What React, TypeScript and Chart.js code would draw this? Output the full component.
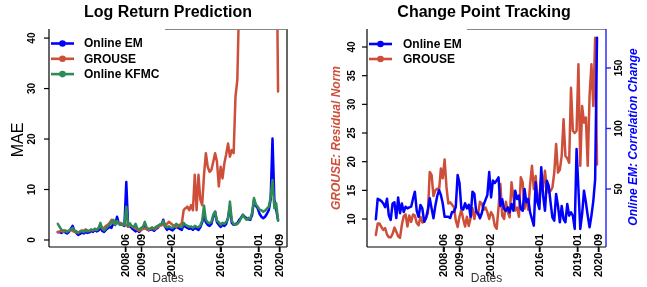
import { useEffect, useRef } from "react";
import { Chart, registerables } from "chart.js";
Chart.register(...registerables);

// ---- time grid (decimal years, one sample every ~1.77 months) ----
const N = 120;
const START = 2003.0;
const STEP = 0.14713;
const dates: number[] = Array.from({ length: N }, (_, i) => START + i * STEP);

// ---- x tick positions / labels ----
const xTickValues = [2008.417, 2009.667, 2012.083, 2016.0, 2019.0, 2020.667];
const xTickLabels = ["2008\u221206", "2009\u221209", "2012\u221202", "2016\u221201", "2019\u221201", "2020\u221209"];

// ---- left panel: Log Return Prediction (MAE) ----
const lrYTicks = [0, 10, 20, 30, 40];
const lrEM = [
  1.6, 1.5, 1.4, 1.7, 1.5, 1.3, 1.6, 2.2, 2.8, 1.8,
  1.4, 1.0, 1.2, 1.5, 1.3, 1.6, 1.4, 1.5, 1.8, 1.6,
  2.0, 1.7, 1.9, 2.4, 1.8, 1.6, 2.0, 2.3, 2.6, 2.4,
  3.3, 3.0, 4.6, 3.2, 3.0, 3.0, 2.8, 11.5, 2.6, 2.8,
  2.3, 2.0, 1.7, 1.9, 1.6, 2.0, 2.4, 3.0, 2.2, 1.9,
  2.0, 2.1, 1.8, 2.2, 2.4, 3.0, 3.0, 4.0, 2.6, 2.0,
  2.3, 2.1, 1.9, 2.3, 2.6, 2.4, 2.2, 2.0, 3.0, 2.6,
  2.4, 2.2, 2.3, 2.0, 2.4, 2.2, 2.0, 2.5, 3.5, 4.8,
  3.5, 3.0, 2.8, 3.2, 4.6, 5.6, 3.5, 3.0, 2.6, 3.0,
  2.8, 3.2, 4.5, 6.6, 3.4, 3.0, 3.2, 3.3, 4.0, 4.4,
  5.0, 4.6, 4.3, 4.1, 4.0, 5.0, 7.9, 6.8, 6.3, 5.2,
  4.6, 4.3, 4.6, 5.2, 5.9, 8.0, 20.1, 7.9, 6.0, 4.0,
];
const lrGROUSE = [
  1.5, 1.7, 1.8, 1.6, 1.9, 1.7, 1.8, 2.0, 1.8, 1.6,
  1.5, 1.4, 1.7, 1.9, 1.8, 2.1, 1.9, 1.8, 2.0, 1.9,
  2.2, 2.0, 2.4, 2.6, 2.5, 2.3, 2.8, 3.0, 3.4, 4.0,
  3.3, 3.6, 3.6, 3.2, 3.4, 3.0, 3.2, 3.0, 2.6, 2.9,
  2.8, 2.5, 2.3, 2.0, 1.8, 2.0, 2.2, 2.3, 2.1, 2.0,
  2.2, 2.4, 2.1, 2.3, 2.6, 2.8, 2.9, 3.0, 2.7, 3.2,
  3.6, 3.3, 3.0, 2.8, 2.6, 2.8, 3.0, 3.3, 5.9, 6.3,
  6.6, 5.9, 6.9, 5.9, 12.9, 5.9, 12.9, 8.0, 6.9, 12.9,
  17.2, 14.5, 13.5, 13.9, 15.5, 17.2, 15.5, 10.6, 14.5, 12.2,
  15.2, 17.0, 19.1, 16.5, 17.8, 17.2, 28.4, 31.7, 48, 55,
  60, 58, 65, 70, 62, 68, 75, 72, 80, 70,
  66, 74, 78, 85, 72, 80, 90, 76, 68, 29.4,
];
const lrKFMC = [
  3.2, 2.6, 2.0, 1.9, 1.8, 1.6, 1.9, 2.0, 2.4, 1.9,
  1.7, 1.5, 1.6, 1.8, 1.6, 1.9, 1.7, 1.8, 2.1, 1.9,
  2.2, 2.0, 2.3, 3.4, 2.2, 1.9, 2.3, 2.7, 3.0, 3.6,
  4.0, 3.0, 3.8, 3.2, 3.0, 3.2, 3.0, 6.6, 2.8, 3.3,
  2.7, 2.5, 3.2, 2.3, 2.0, 2.4, 2.6, 3.6, 2.5, 2.2,
  2.3, 2.5, 2.2, 2.6, 2.8, 3.0, 3.2, 3.8, 2.8, 2.5,
  2.7, 2.5, 2.4, 2.7, 3.2, 2.9, 2.6, 2.5, 3.4, 3.0,
  2.8, 2.6, 2.7, 2.4, 2.8, 2.6, 2.5, 2.9, 3.8, 6.8,
  4.0, 3.5, 3.3, 3.6, 5.0, 5.6, 3.8, 3.5, 3.0, 3.4,
  3.2, 3.6, 4.2, 7.6, 3.8, 3.2, 3.0, 3.2, 3.6, 4.3,
  5.0, 4.4, 4.0, 4.4, 4.2, 5.5, 8.3, 7.0, 6.6, 6.0,
  5.9, 5.6, 5.8, 6.2, 6.6, 8.5, 11.9, 6.3, 7.3, 3.8,
];

// ---- right panel: Change Point Tracking ----
const cpLeftTicks = [10, 15, 20, 25, 30, 35, 40];
const cpRightTicks = [50, 100, 150];
const cpGROUSE = [
  7.2, 9.2, 9.2, 8.6, 8.1, 8.4, 7.3, 6.8, 6.8, 7.4,
  8.5, 7.8, 7.0, 6.7, 9.0, 10.5, 10.8, 8.7, 10.6, 9.5,
  10.8, 10.6, 9.3, 8.9, 10.4, 9.4, 9.5, 10.2, 11.0, 18.2,
  17.7, 14.0, 15.0, 15.3, 15.0, 18.8, 17.1, 20.4, 15.6, 12.7,
  12.9, 12.5, 12.1, 9.8, 8.6, 10.4, 11.6, 10.0, 8.7, 10.4,
  8.8, 10.2, 11.9, 10.0, 11.6, 10.8, 13.0, 12.7, 11.6, 12.0,
  11.2, 10.0, 11.2, 10.6, 8.8, 8.3, 12.0, 16.1, 10.6, 10.0,
  13.0, 11.2, 10.3, 16.4, 13.9, 11.5, 12.0, 10.4, 17.3, 16.4,
  11.8, 13.6, 11.6, 16.0, 19.3, 15.2, 17.5, 12.9, 14.0, 17.3,
  15.5, 18.4, 15.2, 14.6, 14.9, 15.5, 18.1, 23.1, 18.1, 18.6,
  21.0, 27.4, 21.0, 20.6, 19.8, 32.9, 25.4, 25.0, 25.4, 37.0,
  19.3, 29.7, 26.8, 27.7, 19.3, 31.5, 37.0, 29.7, 41.6, 19.5,
];
const cpEM = [
  25, 42, 41, 40, 38, 35, 42, 28, 24.4, 38,
  39, 26, 43, 30, 38, 31, 35.4, 34, 34.8, 35.4,
  42, 47.8, 32, 27, 36.8, 34, 23, 26, 33, 42.3,
  34, 25.8, 36, 44, 49, 45, 38, 27, 27, 27,
  26, 31, 31, 35, 61.6, 55, 34, 33, 38.2, 34,
  37, 27, 47.8, 46, 31, 30, 25.8, 30, 37, 41,
  45, 64, 43, 57, 55, 57, 59.6, 36, 41.5, 33.5,
  32, 34.8, 30.7, 37.6, 32, 48.6, 41.7, 44.5, 33.5, 32,
  50, 39, 41.7, 30.7, 25.2, 19.7, 55.5, 39, 33.5, 67.9,
  44.5, 32, 56.9, 52.8, 39, 26.6, 23.8, 45.9, 36, 22.5,
  36, 25.2, 22.5, 37.6, 28, 30.7, 28, 17, 83, 50,
  17, 29.5, 48.6, 39, 28, 18.3, 28, 40, 58, 175,
];

const BLUE = "#0000FF";
const RED = "#CD4F39";
const GREEN = "#2E8B57";
const FONT = '"Liberation Sans", Arial, Helvetica, sans-serif';

const pts = (vals: number[]) => vals.map((v, i) => ({ x: dates[i], y: v }));

function seg(ctx: CanvasRenderingContext2D, x1: number, y1: number, x2: number, y2: number) {
  ctx.beginPath();
  ctx.moveTo(x1, y1);
  ctx.lineTo(x2, y2);
  ctx.stroke();
}

function vtext(ctx: CanvasRenderingContext2D, s: string, x: number, y: number, align: CanvasTextAlign, font: string, color: string) {
  ctx.save();
  ctx.translate(x, y);
  ctx.rotate(-Math.PI / 2);
  ctx.font = font;
  ctx.fillStyle = color;
  ctx.textAlign = align;
  ctx.textBaseline = "middle";
  ctx.fillText(s, 0, 0);
  ctx.restore();
}

function drawLegend(ctx: CanvasRenderingContext2D, items: { label: string; color: string }[], lineX1: number, lineX2: number, textX: number, y0: number, dy: number) {
  items.forEach((it, k) => {
    const y = y0 + k * dy;
    ctx.strokeStyle = it.color;
    ctx.lineWidth = 2.6;
    seg(ctx, lineX1, y, lineX2, y);
    ctx.fillStyle = it.color;
    ctx.beginPath();
    ctx.arc((lineX1 + lineX2) / 2, y, 3.3, 0, Math.PI * 2);
    ctx.fill();
    ctx.fillStyle = "#000";
    ctx.font = `bold 12px ${FONT}`;
    ctx.textAlign = "left";
    ctx.textBaseline = "middle";
    ctx.fillText(it.label, textX, y + 0.5);
  });
}

function drawXAxis(ctx: CanvasRenderingContext2D, chart: any) {
  const a = chart.chartArea;
  const xs = chart.scales.x;
  ctx.strokeStyle = "#000";
  ctx.lineWidth = 1.2;
  xTickValues.forEach((v, i) => {
    const px = xs.getPixelForValue(v);
    seg(ctx, px, a.bottom, px, a.bottom + 5);
    vtext(ctx, xTickLabels[i], px, 277, "left", `bold 11px ${FONT}`, "#000");
  });
  ctx.font = `12px ${FONT}`;
  ctx.fillStyle = "#333";
  ctx.textAlign = "center";
  ctx.textBaseline = "alphabetic";
  ctx.fillText("Dates", (a.left + a.right) / 2, 282);
}

const leftPlugin = {
  id: "leftDecor",
  afterDraw(chart: any) {
    const ctx: CanvasRenderingContext2D = chart.ctx;
    const a = chart.chartArea;
    const ys = chart.scales.y;
    ctx.save();
    // legend background
    ctx.fillStyle = "#fff";
    ctx.fillRect(a.left + 1, a.top - 1, 116, 54);
    // frame
    ctx.strokeStyle = "#000";
    ctx.lineWidth = 1.2;
    seg(ctx, a.left, a.top, a.left, a.bottom);
    seg(ctx, a.left, a.bottom, a.right, a.bottom);
    seg(ctx, a.right, a.top, a.right, a.bottom);
    ctx.strokeStyle = "#888";
    ctx.lineWidth = 1;
    seg(ctx, 165, a.top + 0.5, a.right, a.top + 0.5);
    // y ticks
    ctx.strokeStyle = "#000";
    ctx.lineWidth = 1.2;
    lrYTicks.forEach((v) => {
      const py = ys.getPixelForValue(v);
      seg(ctx, a.left - 5, py, a.left, py);
      vtext(ctx, String(v), a.left - 17, py, "center", `bold 10px ${FONT}`, "#000");
    });
    drawXAxis(ctx, chart);
    vtext(ctx, "MAE", 19, 140, "center", `16px ${FONT}`, "#000");
    // title
    ctx.font = `bold 16px ${FONT}`;
    ctx.fillStyle = "#000";
    ctx.textAlign = "center";
    ctx.textBaseline = "alphabetic";
    ctx.fillText("Log Return Prediction", 168, 17);
    drawLegend(ctx, [
      { label: "Online EM", color: BLUE },
      { label: "GROUSE", color: RED },
      { label: "Online KFMC", color: GREEN },
    ], 51, 74, 84, 43.5, 15.3);
    ctx.restore();
  },
};

const rightPlugin = {
  id: "rightDecor",
  afterDraw(chart: any) {
    const ctx: CanvasRenderingContext2D = chart.ctx;
    const a = chart.chartArea;
    const yl = chart.scales.yL;
    const yr = chart.scales.yR;
    ctx.save();
    ctx.fillStyle = "#fff";
    ctx.fillRect(a.left + 1, a.top - 1, 99, 40);
    ctx.strokeStyle = "#000";
    ctx.lineWidth = 1.2;
    seg(ctx, a.left, a.top, a.left, a.bottom);
    seg(ctx, a.left, a.bottom, a.right, a.bottom);
    ctx.strokeStyle = "#888";
    ctx.lineWidth = 1;
    seg(ctx, 144, a.top + 0.5, a.right, a.top + 0.5);
    // left ticks
    ctx.strokeStyle = "#000";
    ctx.lineWidth = 1.2;
    cpLeftTicks.forEach((v) => {
      const py = yl.getPixelForValue(v);
      seg(ctx, a.left - 5, py, a.left, py);
      vtext(ctx, String(v), a.left - 14.5, py, "center", `bold 10px ${FONT}`, "#000");
    });
    // right axis (blue)
    ctx.strokeStyle = "#2020FF";
    ctx.lineWidth = 1.4;
    seg(ctx, a.right, a.top, a.right, a.bottom);
    cpRightTicks.forEach((v) => {
      const py = yr.getPixelForValue(v);
      seg(ctx, a.right, py, a.right + 5, py);
      vtext(ctx, String(v), a.right + 13, py, "center", `bold 10px ${FONT}`, "#000");
    });
    drawXAxis(ctx, chart);
    vtext(ctx, "GROUSE: Residual Norm", 14, 138, "center", `italic bold 12px ${FONT}`, RED);
    vtext(ctx, "Online EM: Correlation Change", 311, 137, "center", `italic bold 12px ${FONT}`, BLUE);
    ctx.font = `bold 16px ${FONT}`;
    ctx.fillStyle = "#000";
    ctx.textAlign = "center";
    ctx.textBaseline = "alphabetic";
    ctx.fillText("Change Point Tracking", 161, 17);
    drawLegend(ctx, [
      { label: "Online EM", color: BLUE },
      { label: "GROUSE", color: RED },
    ], 46, 69, 80, 44, 15);
    ctx.restore();
  },
};

const lineDs = (label: string, data: number[], color: string, order: number, yAxisID?: string) => ({
  label,
  data: pts(data),
  borderColor: color,
  backgroundColor: color,
  borderWidth: 2.5,
  pointRadius: 0,
  tension: 0,
  fill: false,
  borderJoinStyle: "round" as const,
  borderCapStyle: "round" as const,
  order,
  ...(yAxisID ? { yAxisID } : {}),
});

export default function App() {
  const leftRef = useRef<HTMLCanvasElement>(null);
  const rightRef = useRef<HTMLCanvasElement>(null);

  useEffect(() => {
    document.body.style.margin = "0";
    const common = {
      responsive: false,
      maintainAspectRatio: false,
      devicePixelRatio: 1,
      animation: false as const,
      events: [] as any[],
      plugins: { legend: { display: false }, tooltip: { enabled: false }, title: { display: false } },
    };
    const c1 = new Chart(leftRef.current!, {
      type: "line",
      data: {
        datasets: [
          lineDs("Online EM", lrEM, BLUE, 3),
          lineDs("GROUSE", lrGROUSE, RED, 2),
          lineDs("Online KFMC", lrKFMC, GREEN, 1),
        ],
      },
      options: {
        ...common,
        layout: { padding: { left: 49, right: 36, top: 29, bottom: 40 } },
        scales: {
          x: { type: "linear", min: 2002.3, max: 2021.22, display: false },
          y: { type: "linear", min: -1.39, max: 41.8, display: false },
        },
      } as any,
      plugins: [leftPlugin],
    });
    const c2 = new Chart(rightRef.current!, {
      type: "line",
      data: {
        datasets: [
          lineDs("Online EM", cpEM, BLUE, 1, "yR"),
          lineDs("GROUSE", cpGROUSE, RED, 2, "yL"),
        ],
      },
      options: {
        ...common,
        layout: { padding: { left: 44, right: 41, top: 29, bottom: 40 } },
        scales: {
          x: { type: "linear", min: 2002.3, max: 2021.22, display: false },
          yL: { type: "linear", position: "left", min: 5.12, max: 43.14, display: false },
          yR: { type: "linear", position: "right", min: 2.07, max: 182.2, display: false },
        },
      } as any,
      plugins: [rightPlugin],
    });
    return () => {
      c1.destroy();
      c2.destroy();
    };
  }, []);

  return (
    <div style={{ position: "absolute", left: 0, top: 0, width: 647, height: 287, background: "#fff" }}>
      <canvas ref={leftRef} width={323} height={287} style={{ position: "absolute", left: 0, top: 0, width: 323, height: 287 }} />
      <canvas ref={rightRef} width={324} height={287} style={{ position: "absolute", left: 323, top: 0, width: 324, height: 287 }} />
    </div>
  );
}
